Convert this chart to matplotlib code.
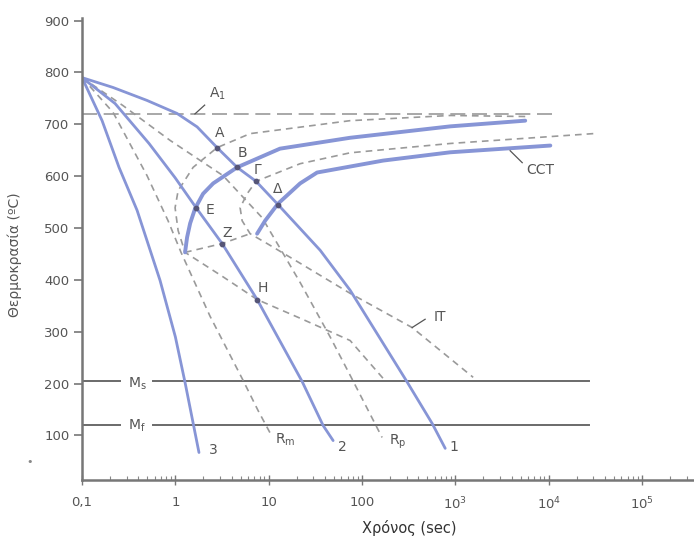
import matplotlib
matplotlib.use('Agg')
import matplotlib.pyplot as plt
import numpy as np

plt.rcParams['mathtext.default'] = 'regular'
plt.rcParams['font.family'] = ['DejaVu Sans']

# cooling curves (time s, temperature C)
c3_t = [0.1, 0.164, 0.249, 0.389, 0.685, 1.0, 1.27, 1.79]
c3_T = [790, 707, 617, 534, 399, 290, 202, 67]
c2_t = [0.1, 0.226, 0.522, 0.993, 1.67, 3.17, 7.52, 22.8, 38.3, 49.0]
c2_T = [790, 740, 663, 597, 539, 470, 362, 204, 119, 90]
c1_t = [0.1, 0.215, 0.497, 1.04, 1.71, 2.80, 4.59, 7.32, 12.6, 35.6, 74.5, 297, 564, 778]
c1_T = [790, 771, 746, 721, 695, 655, 617, 590, 545, 457, 380, 206, 123, 75]

# critical cooling rates (dashed)
rm_t = [0.1, 0.215, 0.497, 0.835, 1.15, 2.35, 5.32, 7.69, 10.4]
rm_T = [790, 723, 601, 514, 453, 330, 206, 148, 104]
rp_t = [0.1, 0.275, 0.877, 3.24, 8.49, 21.7, 45.5, 74.5, 164]
rp_T = [790, 736, 669, 601, 520, 395, 290, 216, 96]

# CCT curves (solid, thick)
ccts_t = [1.27, 1.335, 1.44, 1.63, 1.98, 2.54, 4.59, 13.2, 74.5, 880, 5600]
ccts_T = [453, 482, 509, 538, 566, 586, 617, 653, 674, 696, 707]
cctf_t = [7.51, 9.15, 12.6, 21.7, 33.0, 168, 880, 10400]
cctf_T = [489, 514, 547, 586, 607, 630, 646, 659]

# IT curves (dashed)
its_t = [5600, 880, 74.5, 6.32, 2.80, 1.55, 1.07, 0.993, 1.07, 1.27, 3.17, 7.52, 21.7, 74.5, 168]
its_T = [715, 717, 707, 682, 655, 617, 572, 539, 495, 453, 407, 362, 326, 283, 210]
itf_t = [30000, 880, 74.5, 21.7, 7.32, 5.87, 4.94, 5.19, 6.32, 9.61, 21.7, 74.5, 344, 1550]
itf_T = [682, 663, 645, 624, 590, 566, 539, 514, 489, 470, 432, 374, 308, 212]
zl_t = [1.27, 3.17, 6.32]
zl_T = [453, 470, 489]

A1 = 720
Ms = 204
Mf = 121

# marked points
pt_names = ['A', 'B', 'Γ', 'Δ', 'E', 'Z', 'H']
pt_t = [2.80, 4.59, 7.32, 12.6, 1.67, 3.17, 7.52]
pt_T = [655, 617, 590, 545, 539, 470, 362]
lab_t = [3.01, 5.19, 7.51, 12.6, 2.36, 3.58, 8.71]
lab_T = [684, 645, 611, 576, 534, 491, 385]

xticks = [0.1, 1, 10, 100, 1e3, 1e4, 1e5]
xticklabels = ['0,1', '1', '10', '100', '10$^3$', '10$^4$', '10$^5$']
yticks = [100, 200, 300, 400, 500, 600, 700, 800, 900]

blue = '#8795d6'
dash = '#9a9a9a'
grey = '#555555'

fig = plt.figure(figsize=(6.94, 5.42), dpi=100)
ax = fig.add_axes([0.1182, 0.1144, 0.8818, 0.8524])
ax.set_xscale('log')
ax.set_xlim(0.1, 3.6e5)
ax.set_ylim(14, 905)

# horizontal lines
ax.plot([0.1, 1.15e4], [A1, A1], color=dash, lw=1.2, ls=(0, (9, 4)))
for lvl in (Ms, Mf):
    ax.plot([0.1, 0.255], [lvl, lvl], color='#6a6a6a', lw=1.4)
    ax.plot([0.57, 2.7e4], [lvl, lvl], color='#6a6a6a', lw=1.4)

# dashed curves
for tt, TT in [(rm_t, rm_T), (rp_t, rp_T), (its_t, its_T), (itf_t, itf_T), (zl_t, zl_T)]:
    ax.plot(tt, TT, color=dash, lw=1.2, ls=(0, (4, 3)))

# cooling curves
for tt, TT in [(c3_t, c3_T), (c2_t, c2_T), (c1_t, c1_T)]:
    ax.plot(tt, TT, color=blue, lw=2.0, solid_capstyle='round', solid_joinstyle='round')

# CCT curves
for tt, TT in [(ccts_t, ccts_T), (cctf_t, cctf_T)]:
    ax.plot(tt, TT, color=blue, lw=2.8, solid_capstyle='round', solid_joinstyle='round')

ax.scatter(pt_t, pt_T, s=10, color='#555577', zorder=5)
for n, x, y in zip(pt_names, lab_t, lab_T):
    ax.text(x, y, n, fontsize=10, color=grey, ha='center', va='center')

# other labels
ax.text(2.80, 759, 'A$_1$', fontsize=10, color=grey, ha='center', va='center')
ax.plot([1.62, 2.06], [720, 737], color=grey, lw=0.9)
ax.text(8100, 611, 'CCT', fontsize=10, color=grey, ha='center', va='center')
ax.plot([3860, 5200], [649, 626], color=grey, lw=0.9)
ax.text(687, 328, 'IT', fontsize=10, color=grey, ha='center', va='center')
ax.plot([344, 474], [308, 324], color=grey, lw=0.9)
ax.text(0.389, 200, 'M$_s$', fontsize=10, color=grey, ha='center', va='center')
ax.text(0.389, 119, 'M$_f$', fontsize=10, color=grey, ha='center', va='center')
ax.text(2.54, 71, '3', fontsize=10, color=grey, ha='center', va='center')
ax.text(15.0, 91, 'R$_m$', fontsize=10, color=grey, ha='center', va='center')
ax.text(61.2, 77, '2', fontsize=10, color=grey, ha='center', va='center')
ax.text(244, 87, 'R$_p$', fontsize=10, color=grey, ha='center', va='center')
ax.text(970, 77, '1', fontsize=10, color=grey, ha='center', va='center')

# axes styling
for s in ('top', 'right'):
    ax.spines[s].set_visible(False)
for s in ('left', 'bottom'):
    ax.spines[s].set_color('#777777')
    ax.spines[s].set_linewidth(1.8)
ax.set_yticks(yticks)
ax.set_yticklabels([str(v) for v in yticks])
ax.set_xticks(xticks)
ax.set_xticklabels(xticklabels)
ax.xaxis.set_minor_locator(matplotlib.ticker.LogLocator(base=10, subs=np.arange(2, 10)))
ax.xaxis.set_minor_formatter(matplotlib.ticker.NullFormatter())
ax.tick_params(axis='y', direction='out', length=6, width=1.2, color='#777777',
               labelcolor=grey, labelsize=9.5, pad=3)
ax.tick_params(axis='x', which='major', direction='inout', length=7, width=1.0,
               color='#777777', labelcolor=grey, labelsize=9.5, pad=8)
ax.tick_params(axis='x', which='minor', direction='in', length=3, width=0.8, color='#888888')

fig.text(0.59, 0.026, 'Χρόνος (sec)', fontsize=10.5, color='#333333', ha='center', va='center')
fig.text(0.021, 0.53, 'Θερμοκρασία (ºC)', fontsize=10, color=grey, rotation=90,
         ha='center', va='center')
fig.text(0.043, 0.148, '•', fontsize=8, color='#888888', ha='center', va='center')

fig.savefig('out.png', dpi=100)
